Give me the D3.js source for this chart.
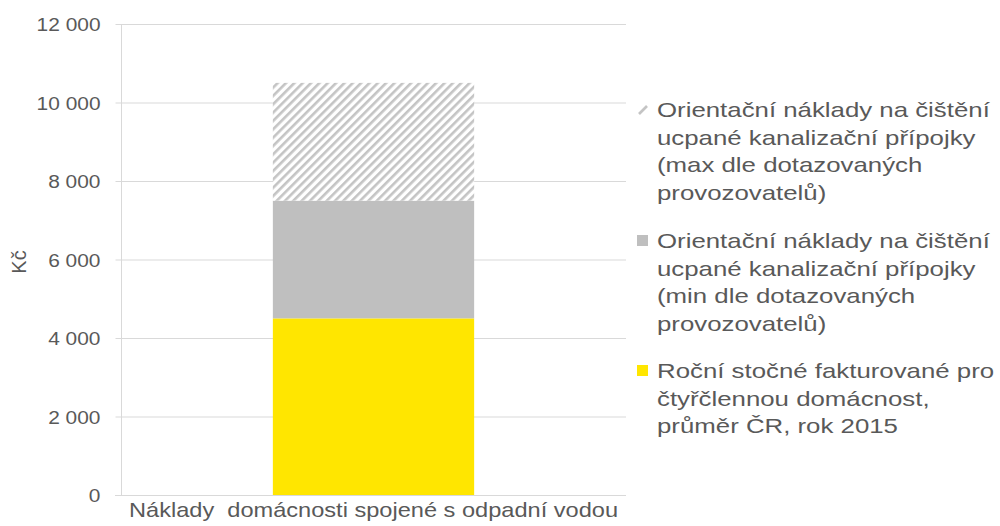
<!DOCTYPE html>
<html><head><meta charset="utf-8">
<script src="https://cdn.jsdelivr.net/npm/d3@7"></script>
<style>
body{margin:0;background:#fff;}
text{font-family:"Liberation Sans",Arial,sans-serif;fill:#595959;}
</style></head>
<body><svg id="c" width="1000" height="526"></svg>
<script>
const categories = ["Náklady  domácnosti spojené s odpadní vodou"];
const seriesNames = [
  "Roční stočné fakturované pro čtyřčlennou domácnost, průměr ČR, rok 2015",
  "Orientační náklady na čištění ucpané kanalizační přípojky (min dle dotazovaných provozovatelů)",
  "Orientační náklady na čištění ucpané kanalizační přípojky (max dle dotazovaných provozovatelů)"
];
const valuesYearly = [4500];
const valuesMin = [3000];
const valuesMax = [3000];
const yTicks = [0, 2000, 4000, 6000, 8000, 10000, 12000];
const legendLines = [
  ["Orientační náklady na čištění","ucpané kanalizační přípojky","(max dle dotazovaných","provozovatelů)"],
  ["Orientační náklady na čištění","ucpané kanalizační přípojky","(min dle dotazovaných","provozovatelů)"],
  ["Roční stočné fakturované pro","čtyřčlennou domácnost,","průměr ČR, rok 2015"]
];
const yTitle = "Kč";

const svg = d3.select("#c");
const m = {left:121, right:626, top:24, bottom:495};
const x = d3.scaleBand().domain(categories).range([m.left, m.right]).padding(0.43);
const y = d3.scaleLinear().domain([0, 12000]).range([m.bottom, m.top]);

const defs = svg.append("defs");
const pat = defs.append("pattern").attr("id","hatch").attr("patternUnits","userSpaceOnUse")
  .attr("width",5.9).attr("height",5.9).attr("patternTransform","rotate(45)");
pat.append("rect").attr("width",5.9).attr("height",5.9).attr("fill","#fff");
pat.append("rect").attr("x",0).attr("width",2.6).attr("height",5.9).attr("fill","#c4c4c4");

// gridlines
svg.append("g").selectAll("line").data(yTicks.filter(d=>d>0)).join("line")
  .attr("x1",m.left).attr("x2",m.right).attr("y1",d=>y(d)+0.5).attr("y2",d=>y(d)+0.5)
  .attr("stroke","#d9d9d9").attr("stroke-width",1);

// stacked data
const rows = categories.map((c,i)=>({cat:c, yearly:valuesYearly[i], min:valuesMin[i], max:valuesMax[i]}));
const stack = d3.stack().keys(["yearly","min","max"])(rows);
const fills = {yearly:"#ffe600", min:"#bfbfbf", max:"url(#hatch)"};
svg.append("g").selectAll("g").data(stack).join("g").attr("fill",d=>fills[d.key])
  .selectAll("rect").data(d=>d).join("rect")
  .attr("x",d=>x(d.data.cat)).attr("width",x.bandwidth())
  .attr("y",d=>y(d[1])).attr("height",d=>y(d[0])-y(d[1]));

// y axis
const yAxis = d3.axisLeft(y).tickValues(yTicks).tickSize(6).tickPadding(0)
  .tickFormat(d=>d3.format(",")(d).replace(/,/g," "));
const ga = svg.append("g").attr("transform",`translate(${m.left+0.5},0)`).call(yAxis);
ga.select(".domain").attr("stroke","#d9d9d9").attr("d",`M0,${m.top}V${m.bottom}`);
ga.selectAll(".tick line").attr("stroke","#d9d9d9");
ga.selectAll(".tick text").attr("font-size",19).attr("fill","#595959").attr("dy","0.35em")
  .attr("x",0).attr("transform","translate(-21,0) scale(1.1,1)")
  .style("font-family","Liberation Sans, Arial, sans-serif");

// x axis
const xAxis = d3.axisBottom(x).tickSize(0).tickPadding(0);
const gx = svg.append("g").attr("transform",`translate(0,${m.bottom+0.5})`).call(xAxis);
gx.select(".domain").attr("stroke","#d9d9d9").attr("d",`M${m.left-6},0H${m.right}`);
gx.selectAll(".tick text").attr("font-size",20).attr("fill","#595959")
  .attr("y",0).attr("dy",0).attr("transform","translate(0,21) scale(1.18,1)")
  .style("font-family","Liberation Sans, Arial, sans-serif").style("white-space","pre")
  .attr("xml:space","preserve");

// y title
svg.append("text").attr("transform","translate(19,262) rotate(-90)")
  .attr("text-anchor","middle").attr("dy","0.35em").attr("font-size",20).text(yTitle);

// legend
const legY = [110, 241, 371];
const legFill = [null,"#bfbfbf","#ffe600"];
const lg = svg.append("g");
legendLines.forEach((lines,i)=>{
  const g = lg.append("g").attr("transform",`translate(637,${legY[i]})`);
  if (legFill[i]) {
    g.append("rect").attr("x",0).attr("y",-6).attr("width",11).attr("height",11).attr("fill",legFill[i]);
  } else {
    g.append("line").attr("x1",2).attr("y1",4).attr("x2",10).attr("y2",-4)
      .attr("stroke","#c4c4c4").attr("stroke-width",2.6);
  }
  lines.forEach((t,j)=>{
    g.append("text").attr("x",0).attr("dy","0.35em").attr("font-size",20.5)
      .attr("transform",`translate(20,${j*27.5}) scale(1.26,1)`).text(t);
  });
});
</script></body></html>
